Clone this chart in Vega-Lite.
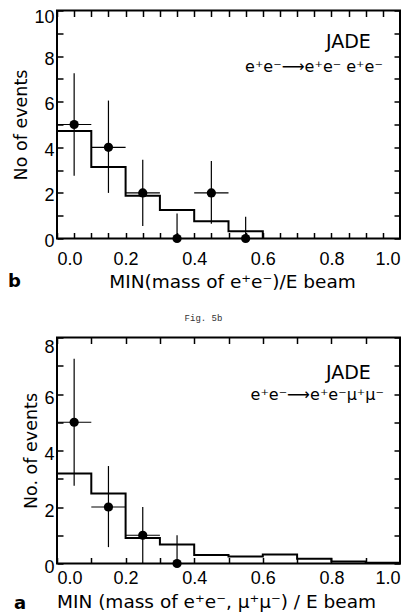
{
  "$schema": "https://vega.github.io/schema/vega-lite/v6.json",
  "background": "white",
  "padding": {"left": 7, "top": 7.5, "right": 0, "bottom": 0},
  "bounds": "flush",
  "spacing": 99,
  "config": {
    "view": {"stroke": "black", "strokeWidth": 2},
    "axis": {
      "grid": false,
      "domain": false,
      "ticks": true,
      "offset": -6,
      "tickColor": "black",
      "tickWidth": 1.5,
      "tickSize": 6,
      "tickOpacity": 1,
      "labelFont": "Liberation Sans",
      "labelFontSize": 18,
      "labelColor": "black",
      "labelOverlap": false,
      "titleFont": "DejaVu Sans",
      "titleFontWeight": "normal",
      "titleColor": "black"
    }
  },
  "title": {"text": "a", "orient": "bottom", "anchor": "start", "frame": "group", "dx": -43, "offset": -17, "baseline": "top", "font": "DejaVu Sans", "fontSize": 18, "fontWeight": "bold", "color": "black"},
  "datasets": {
    "top_hist": [
      {"x": 0.0, "n": 4.72}, {"x": 0.1, "n": 3.14}, {"x": 0.2, "n": 1.87},
      {"x": 0.3, "n": 1.25}, {"x": 0.4, "n": 0.76}, {"x": 0.5, "n": 0.32},
      {"x": 0.6, "n": 0}
    ],
    "top_pts": [
      {"x": 0.05, "y": 5, "lo": 2.75, "hi": 7.25, "xl": 0.0, "xh": 0.1},
      {"x": 0.15, "y": 4, "lo": 2.0, "hi": 6.05, "xl": 0.1, "xh": 0.2},
      {"x": 0.25, "y": 2, "lo": 0.55, "hi": 3.45, "xl": 0.2, "xh": 0.3},
      {"x": 0.35, "y": 0, "lo": 0, "hi": 1.1, "xl": 0.3, "xh": 0.4},
      {"x": 0.45, "y": 2, "lo": 0.65, "hi": 3.4, "xl": 0.4, "xh": 0.5},
      {"x": 0.55, "y": 0, "lo": 0, "hi": 0.95, "xl": 0.5, "xh": 0.6}
    ],
    "top_lab": [
      {"x": 0.915, "y": 8.63, "t": "JADE"},
      {"x": 0.95, "y": 7.53, "t": "e⁺e⁻⟶e⁺e⁻ e⁺e⁻"}
    ],
    "bot_hist": [
      {"x": 0.0, "n": 3.19}, {"x": 0.1, "n": 2.48}, {"x": 0.2, "n": 0.9},
      {"x": 0.3, "n": 0.67}, {"x": 0.4, "n": 0.3}, {"x": 0.5, "n": 0.25},
      {"x": 0.6, "n": 0.32}, {"x": 0.7, "n": 0.17}, {"x": 0.8, "n": 0.07},
      {"x": 0.9, "n": 0.03}, {"x": 1.0, "n": 0.03}
    ],
    "bot_pts": [
      {"x": 0.05, "y": 5, "lo": 2.75, "hi": 7.25, "xl": 0.0, "xh": 0.1},
      {"x": 0.15, "y": 2, "lo": 0.58, "hi": 3.45, "xl": 0.1, "xh": 0.2},
      {"x": 0.25, "y": 1, "lo": 0, "hi": 2.0, "xl": 0.2, "xh": 0.3},
      {"x": 0.35, "y": 0, "lo": 0, "hi": 1.0, "xl": 0.3, "xh": 0.4}
    ],
    "bot_lab": [
      {"x": 0.915, "y": 6.73, "t": "JADE"},
      {"x": 0.953, "y": 5.95, "t": "e⁺e⁻⟶e⁺e⁻μ⁺μ⁻"}
    ]
  },
  "vconcat": [
    {
      "width": 343,
      "height": 228,
      "title": {"text": "b", "orient": "bottom", "anchor": "start", "frame": "group", "dx": -49, "offset": -18, "baseline": "top", "font": "DejaVu Sans", "fontSize": 18, "fontWeight": "bold", "color": "black"},
      "resolve": {"axis": {"x": "independent", "y": "independent"}},
      "layer": [
        {
          "data": {"name": "top_hist"},
          "mark": {"type": "line", "interpolate": "step-after", "color": "black", "strokeWidth": 2},
          "encoding": {
            "x": {"field": "x", "type": "quantitative", "scale": {"domain": [0, 1], "nice": false},
              "axis": {"orient": "bottom", "values": [0, 0.05, 0.1, 0.15, 0.2, 0.25, 0.3, 0.35, 0.4, 0.45, 0.5, 0.55, 0.6, 0.65, 0.7, 0.75, 0.8, 0.85, 0.9, 0.95, 1.0],
                "labelExpr": "abs(datum.value*5 - round(datum.value*5)) < 0.001 ? format(datum.value, '.1f') : ''",
                "labelFlush": true, "labelPadding": 12,
                "title": "MIN(mass of e⁺e⁻)/E beam", "titleFontSize": 18.5, "titlePadding": 4, "titleX": 175}},
            "y": {"field": "n", "type": "quantitative", "scale": {"domain": [0, 10], "nice": false},
              "axis": {"orient": "left", "values": [0, 1, 2, 3, 4, 5, 6, 7, 8, 9, 10],
                "labelExpr": "datum.value % 2 == 0 ? datum.label : ''",
                "labelPadding": 3,
                "labelOffset": {"condition": {"test": "datum.value === 10", "value": 7}, "value": 3},
                "title": "No of events", "titleFontSize": 17.5, "titlePadding": 3}}
          }
        },
        {
          "data": {"name": "top_pts"},
          "mark": {"type": "rule", "color": "black", "strokeWidth": 1.2},
          "encoding": {
            "x": {"field": "x", "type": "quantitative", "scale": {"domain": [0, 1], "nice": false},
              "axis": {"orient": "top", "values": [0, 0.05, 0.1, 0.15, 0.2, 0.25, 0.3, 0.35, 0.4, 0.45, 0.5, 0.55, 0.6, 0.65, 0.7, 0.75, 0.8, 0.85, 0.9, 0.95, 1.0], "labels": false, "title": null}},
            "y": {"field": "lo", "type": "quantitative", "scale": {"domain": [0, 10], "nice": false},
              "axis": {"orient": "right", "values": [0, 1, 2, 3, 4, 5, 6, 7, 8, 9, 10], "labels": false, "title": null}},
            "y2": {"field": "hi"}
          }
        },
        {
          "data": {"name": "top_pts"},
          "mark": {"type": "rule", "color": "black", "strokeWidth": 1.2},
          "encoding": {
            "x": {"field": "xl", "type": "quantitative", "axis": null},
            "x2": {"field": "xh"},
            "y": {"field": "y", "type": "quantitative", "axis": null}
          }
        },
        {
          "data": {"name": "top_pts"},
          "mark": {"type": "point", "filled": true, "color": "black", "opacity": 1, "size": 85},
          "encoding": {
            "x": {"field": "x", "type": "quantitative", "axis": null},
            "y": {"field": "y", "type": "quantitative", "axis": null}
          }
        },
        {
          "data": {"name": "top_lab"},
          "transform": [{"filter": "datum.t === 'JADE'"}],
          "mark": {"type": "text", "align": "right", "baseline": "middle", "font": "DejaVu Sans", "fontSize": 19, "color": "black"},
          "encoding": {
            "x": {"field": "x", "type": "quantitative", "axis": null},
            "y": {"field": "y", "type": "quantitative", "axis": null},
            "text": {"field": "t"}
          }
        },
        {
          "data": {"name": "top_lab"},
          "transform": [{"filter": "datum.t !== 'JADE'"}],
          "mark": {"type": "text", "align": "right", "baseline": "middle", "font": "DejaVu Sans", "fontSize": 16, "color": "black"},
          "encoding": {
            "x": {"field": "x", "type": "quantitative", "axis": null},
            "y": {"field": "y", "type": "quantitative", "axis": null},
            "text": {"field": "t"}
          }
        }
      ]
    },
    {
      "width": 343,
      "height": 226,
      "title": {"text": "Fig. 5b", "orient": "top", "anchor": "middle", "frame": "group", "dx": -25, "offset": 14, "font": "Liberation Mono", "fontSize": 9, "fontWeight": "normal", "color": "#333333"},
      "resolve": {"axis": {"x": "independent", "y": "independent"}},
      "layer": [
        {
          "data": {"name": "bot_hist"},
          "mark": {"type": "line", "interpolate": "step-after", "color": "black", "strokeWidth": 2},
          "encoding": {
            "x": {"field": "x", "type": "quantitative", "scale": {"domain": [0, 1], "nice": false},
              "axis": {"orient": "bottom", "values": [0, 0.1, 0.2, 0.3, 0.4, 0.5, 0.6, 0.7, 0.8, 0.9, 1.0],
                "labelExpr": "abs(datum.value*5 - round(datum.value*5)) < 0.001 ? format(datum.value, '.1f') : ''",
                "labelFlush": true, "labelPadding": 6,
                "title": "MIN (mass of e⁺e⁻, μ⁺μ⁻) / E beam", "titleFontSize": 18.5, "titlePadding": 5, "titleX": 159}},
            "y": {"field": "n", "type": "quantitative", "scale": {"domain": [0, 8], "nice": false},
              "axis": {"orient": "left", "values": [0, 1, 2, 3, 4, 5, 6, 7, 8],
                "labelExpr": "datum.value % 2 == 0 ? datum.label : ''",
                "labelPadding": 3,
                "labelOffset": {"condition": {"test": "datum.value === 8", "value": 10}, "value": 4},
                "title": "No. of events", "titleFontSize": 17.5, "titlePadding": 3}}
          }
        },
        {
          "data": {"name": "bot_pts"},
          "mark": {"type": "rule", "color": "black", "strokeWidth": 1.2},
          "encoding": {
            "x": {"field": "x", "type": "quantitative", "scale": {"domain": [0, 1], "nice": false},
              "axis": {"orient": "top", "values": [0, 0.1, 0.2, 0.3, 0.4, 0.5, 0.6, 0.7, 0.8, 0.9, 1.0], "labels": false, "title": null}},
            "y": {"field": "lo", "type": "quantitative", "scale": {"domain": [0, 8], "nice": false},
              "axis": {"orient": "right", "values": [0, 1, 2, 3, 4, 5, 6, 7, 8], "labels": false, "title": null}},
            "y2": {"field": "hi"}
          }
        },
        {
          "data": {"name": "bot_pts"},
          "mark": {"type": "rule", "color": "black", "strokeWidth": 1.2},
          "encoding": {
            "x": {"field": "xl", "type": "quantitative", "axis": null},
            "x2": {"field": "xh"},
            "y": {"field": "y", "type": "quantitative", "axis": null}
          }
        },
        {
          "data": {"name": "bot_pts"},
          "mark": {"type": "point", "filled": true, "color": "black", "opacity": 1, "size": 85},
          "encoding": {
            "x": {"field": "x", "type": "quantitative", "axis": null},
            "y": {"field": "y", "type": "quantitative", "axis": null}
          }
        },
        {
          "data": {"name": "bot_lab"},
          "transform": [{"filter": "datum.t === 'JADE'"}],
          "mark": {"type": "text", "align": "right", "baseline": "middle", "font": "DejaVu Sans", "fontSize": 19, "color": "black"},
          "encoding": {
            "x": {"field": "x", "type": "quantitative", "axis": null},
            "y": {"field": "y", "type": "quantitative", "axis": null},
            "text": {"field": "t"}
          }
        },
        {
          "data": {"name": "bot_lab"},
          "transform": [{"filter": "datum.t !== 'JADE'"}],
          "mark": {"type": "text", "align": "right", "baseline": "middle", "font": "DejaVu Sans", "fontSize": 16, "color": "black"},
          "encoding": {
            "x": {"field": "x", "type": "quantitative", "axis": null},
            "y": {"field": "y", "type": "quantitative", "axis": null},
            "text": {"field": "t"}
          }
        }
      ]
    }
  ],
  "resolve": {"scale": {"x": "independent", "y": "independent"}}
}
